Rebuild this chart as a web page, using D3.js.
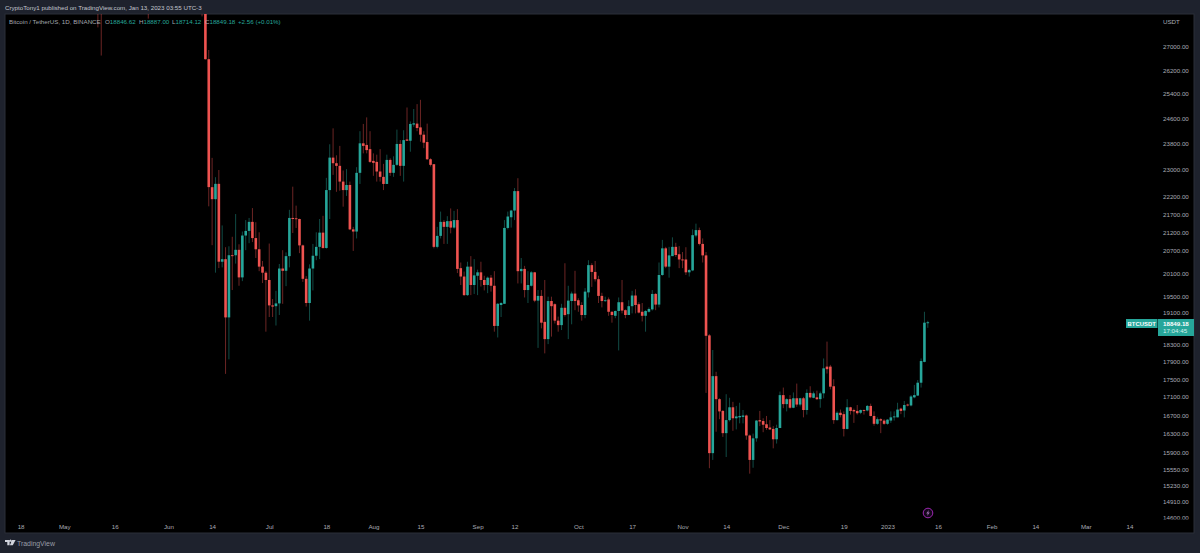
<!DOCTYPE html>
<html><head><meta charset="utf-8">
<script src="https://cdn.jsdelivr.net/npm/d3@7"></script>
<style>
html,body{margin:0;padding:0;background:#1e222d;overflow:hidden}
svg{display:block}
text{font-family:"Liberation Sans",Arial,sans-serif}
</style></head><body>
<svg id="c" width="1200" height="553"></svg>
<script>
// Candles visible only as a wick sticking into the pane from above
const earlyDates=["2022-05-11","2022-05-12","2022-05-26","2022-06-11"];
const earlyOpen=[31000,29000,29500,29080];
const earlyHigh=[32100,30100,30200,29450];
const earlyLow=[27700,26700,28019,28100];
const earlyClose=[29000,28900,29180,28420];

// Daily candles, consecutive from this date
const firstDate="2022-06-12";
const opens=[
28420,26574,22485,22136,22583,20400,20468,18970,20574,20573,20720,19987,21110,21237,21490,21040,20735,20270,20110,
19920,19270,19250,19320,20220,20160,20550,21600,21590,21570,20840,19950,19330,20220,20560,20800,21190,20770,22400,23370,23200,23120,22650,22400,22550,21280,21220,22910,23810,23760,23630,
23270,23240,22950,22790,22580,23300,22910,23150,23790,23120,23930,23890,24400,24430,24310,24080,23850,23320,23170,20800,21100,21490,21350,21510,21330,21540,20230,20010,19530,20270,19790,
20030,20120,19920,19790,19980,19770,18760,19280,19310,21320,21620,21810,22370,20150,20210,19660,19770,20120,19390,19510,18860,18440,19380,19300,18890,18780,19210,19050,19380,19570,
19400,19280,19030,19600,20310,20130,19940,19510,19380,19420,19110,19010,19130,19350,19150,19030,19250,19520,19300,19110,19010,19110,19170,19560,19290,20050,20760,20270,20550,20800,20600,
20460,20460,20120,20170,21110,21260,20880,20570,18530,15890,17570,17050,16790,16310,16590,16870,16630,16650,16660,16690,16260,15750,16200,16590,16570,16500,16430,16400,16180,16420,
17140,16940,17050,16860,17070,16930,17070,16810,17190,17080,17090,17050,17180,17790,17790,17340,16590,16750,16720,16400,16870,16810,16790,16750,16810,16800,16900,16680,16510,16610,16580,
16510,16580,16650,16650,16840,16800,16930,16910,17090,17130,17420,17900,18846.62
];
const highs=[
28550,26895,23362,22780,22995,21390,20790,20815,21075,21710,20870,21220,21540,21600,21880,21480,21200,20420,20150,
20890,19430,19640,20340,20710,20650,21830,22500,21950,21580,20860,20020,20330,20880,21200,21570,21660,22760,23780,24280,23440,23730,22980,23020,22650,21350,23080,24190,24420,24630,24190,
23500,23460,23630,23180,23460,23350,23410,24240,23910,24220,24950,24500,24900,25060,25200,24190,24430,23350,23170,21350,21780,21540,21650,21870,21800,21850,20380,20140,20400,20550,20470,
20190,20400,20030,20010,20050,20150,19330,19350,21540,21780,21830,22460,22750,20500,20290,20150,20150,20130,19660,19660,19920,19490,19490,19320,18990,19310,20360,19770,19620,20160,
19450,19350,19710,20440,20360,20420,20030,19590,19490,19470,19120,19140,19470,19920,19170,19400,19640,19680,19350,19330,19150,19220,19660,19580,20380,20990,20800,20800,21060,20910,20820,
20660,20790,20210,21280,21440,21330,21030,20660,18560,18180,17670,17070,16810,17160,17080,16990,16900,16970,16810,16710,16280,16300,16590,16790,16630,16680,16590,16460,16490,17220,
17310,17070,17140,17200,17400,17080,17100,17270,17340,17220,17240,17220,17980,18380,17830,17500,16780,16820,16780,17050,16880,16840,16920,16820,16820,16920,16950,16780,16650,16630,16610,
16610,16780,16780,16970,16860,17010,16950,17140,17370,17480,17980,19110,18887
];
const lows=[
26560,21930,20846,20111,20232,20250,17622,17960,19660,20350,19770,19890,20710,20900,20930,20500,20150,19840,18620,
18980,18980,18770,19030,19310,19760,20250,21180,21320,20630,19870,19240,18890,19650,20440,20470,20750,20750,21570,22850,22350,22380,21920,22230,21260,20690,21030,22580,23500,23500,23210,
22820,22650,22650,22400,22580,22820,22790,23120,22820,22650,23890,23550,24330,24190,23860,23660,23300,23100,20760,20760,21030,20880,20880,21170,21300,20100,19790,19510,19510,19530,19560,
19530,19750,19650,19580,19620,18620,18480,18980,19310,21280,21330,21540,19830,19830,19470,19330,19750,19350,18230,18700,18100,18320,18500,18820,18620,18660,18990,18440,18800,19150,
19110,18890,18950,19470,19740,19880,19330,19220,19360,19010,18840,18950,18170,19070,18950,19030,19070,19070,19070,18870,18620,19090,19140,19150,19220,20030,20230,19980,20550,20530,20230,
20230,20050,20010,20150,21060,20840,20380,17190,15580,15750,16340,16610,16230,15810,16560,16360,16390,16520,16520,16170,15470,15590,16130,16460,16330,16380,16380,15990,16090,16420,
16850,16780,16840,16850,16880,16890,16650,16710,17070,17070,17030,16860,17070,17630,17270,16510,16580,16650,16240,16390,16710,16530,16710,16720,16710,16780,16670,16470,16490,16310,16490,
16490,16530,16580,16650,16720,16650,16890,16890,17070,17120,17310,17890,18714.12
];
const closes=[
26574,22487,22136,22583,20401,20468,18970,20574,20573,20720,19987,21110,21237,21490,21040,20735,20270,20110,19920,
19270,19240,19320,20220,20160,20550,21600,21570,21570,20840,19950,19330,20220,20560,20800,21190,20770,22400,23370,23200,23120,22650,22400,22550,21280,21220,22910,23810,23730,23600,23240,
23210,22950,22790,22580,23300,22910,23150,23790,23120,23910,23890,24420,24440,24290,24080,23830,23320,23150,20800,21100,21490,21350,21510,21330,21540,20210,20010,19530,20270,19790,20040,
20120,19920,19790,19980,19770,18760,19310,19330,21320,21640,21810,22370,20150,20210,19660,19790,20120,19390,19510,18840,18440,19380,19250,18890,18780,19210,19030,19390,19570,19380,
19270,19030,19620,20310,20130,19940,19510,19380,19400,19110,19030,19130,19350,19140,19030,19250,19520,19280,19090,19010,19130,19180,19560,19290,20050,20760,20270,20570,20800,20580,20460,
20440,20120,20180,21120,21260,20880,20570,18520,15890,17570,17050,16780,16310,16590,16870,16630,16670,16680,16690,16260,15750,16200,16580,16560,16490,16420,16390,16180,16420,17140,
16940,17050,16860,17070,16930,17070,16810,17190,17090,17180,17050,17180,17750,17730,17330,16590,16750,16700,16400,16870,16790,16780,16740,16810,16790,16900,16680,16510,16610,16580,16510,
16600,16650,16670,16820,16790,16920,16910,17110,17140,17420,17920,18840,18849.18
];

const priceTicks=[27000,26200,25400,24600,23800,23000,22200,21700,21200,20700,20100,19500,19100,18300,17900,17500,17100,16700,16300,15900,15550,15230,14910,14600];
const timeTickDates=["2022-04-18","2022-05-01","2022-05-16","2022-06-01","2022-06-14","2022-07-01","2022-07-18","2022-08-01","2022-08-15","2022-09-01","2022-09-12","2022-10-01","2022-10-17","2022-11-01","2022-11-14","2022-12-01","2022-12-19","2023-01-01","2023-01-16","2023-02-01","2023-02-14","2023-03-01","2023-03-14"];
const timeTickLabels=["18","May","16","Jun","14","Jul","18","Aug","15","Sep","12","Oct","17","Nov","14","Dec","19","2023","16","Feb","14","Mar","14"];

const UP="#26a69a",DOWN="#ef5350",TXT="#a8abb4",FRAME="#1e222d",FS=6.2;
const parse=d3.utcParse("%Y-%m-%d");
const svg=d3.select("#c");
const pane={l:5,t:14,r:1194,b:533};

svg.append("rect").attr("width",1200).attr("height",553).attr("fill",FRAME);
svg.append("rect").attr("x",pane.l).attr("y",pane.t).attr("width",pane.r-pane.l).attr("height",pane.b-pane.t).attr("fill","#000").attr("stroke","#2a2e39").attr("stroke-width",1);

const defs=svg.append("defs");
defs.append("clipPath").attr("id","plot").append("rect").attr("x",pane.l).attr("y",pane.t).attr("width",1115).attr("height",pane.b-pane.t);
defs.append("clipPath").attr("id","paxis").append("rect").attr("x",1120).attr("y",pane.t).attr("width",74).attr("height",505.5);

const x=d3.scaleUtc().domain([parse("2022-04-18"),parse("2023-03-14")]).range([20.6,1129.4]);
const y=d3.scaleLog().domain([27000,14600]).range([47,518]);

const start=parse(firstDate);
const candles=opens.map((o,i)=>({d:d3.utcDay.offset(start,i),o,h:highs[i],l:lows[i],c:closes[i]}));
const early=earlyDates.map((s,i)=>({d:parse(s),o:earlyOpen[i],h:earlyHigh[i],l:earlyLow[i],c:earlyClose[i]}));
const all=early.concat(candles);

const g=svg.append("g").attr("clip-path","url(#plot)");
const col=d=>d.c>=d.o?UP:DOWN;
g.selectAll("line.w").data(all).join("line").attr("class","w")
 .attr("x1",d=>x(d.d)).attr("x2",d=>x(d.d))
 .attr("y1",d=>y(d.h)).attr("y2",d=>y(d.l))
 .attr("stroke",col).attr("stroke-width",1).attr("stroke-opacity",0.45);
g.selectAll("rect.b").data(all).join("rect").attr("class","b")
 .attr("x",d=>x(d.d)-1.3).attr("width",2.6)
 .attr("y",d=>Math.min(y(d.o),y(d.c)))
 .attr("height",d=>Math.max(0.9,Math.abs(y(d.o)-y(d.c))))
 .attr("fill",col);

// price axis
const pa=svg.append("g").attr("clip-path","url(#paxis)").append("g").attr("transform","translate(1163,0)")
 .call(d3.axisRight(y).tickValues(priceTicks).tickSize(0).tickPadding(0).tickFormat(d3.format(".2f")));
pa.select(".domain").remove();
pa.selectAll("text").attr("fill",TXT).style("font-size",FS+"px").style("font-family","'Liberation Sans',Arial,sans-serif");
svg.append("text").attr("x",1163).attr("y",23.5).attr("fill",TXT).attr("font-size",FS).text("USDT");

// time axis
const tickMap=new Map(timeTickDates.map((s,i)=>[+parse(s),timeTickLabels[i]]));
const ta=svg.append("g").attr("transform","translate(0,524.5)")
 .call(d3.axisBottom(x).tickValues(timeTickDates.map(parse)).tickSize(0).tickPadding(0).tickFormat(d=>tickMap.get(+d)));
ta.select(".domain").remove();
ta.selectAll("text").attr("fill",TXT).style("font-size",FS+"px").style("font-family","'Liberation Sans',Arial,sans-serif");

// header
svg.append("text").attr("x",5).attr("y",9.8).attr("fill","#c3c6ce").attr("font-size",FS).text("CryptoTony1 published on TradingView.com, Jan 13, 2023 03:55 UTC-3");

// legend
const legendY=23.5;
svg.append("text").attr("x",9).attr("y",legendY).attr("fill","#a3a6af").attr("font-size",FS).text("Bitcoin / TetherUS, 1D, BINANCE");
[[105,"O","18846.62"],[139,"H","18887.00"],[172,"L","18714.12"],[205,"C","18849.18"]].forEach(([px,k,v])=>{
  const t=svg.append("text").attr("x",px).attr("y",legendY).attr("font-size",FS);
  t.append("tspan").attr("fill","#a3a6af").text(k);
  t.append("tspan").attr("fill",UP).text(v);
});
svg.append("text").attr("x",238).attr("y",legendY).attr("fill",UP).attr("font-size",FS).text("+2.56 (+0.01%)");

// last price labels
svg.append("rect").attr("x",1126).attr("y",319).attr("width",31.5).attr("height",9).attr("fill",UP);
svg.append("text").attr("x",1141.7).attr("y",325.8).attr("text-anchor","middle").attr("fill","#fff").attr("font-size",5.9).attr("font-weight","bold").text("BTCUSDT");
svg.append("rect").attr("x",1158).attr("y",319).attr("width",36).attr("height",17).attr("fill",UP);
svg.append("text").attr("x",1163).attr("y",325.8).attr("fill","#fff").attr("font-size",FS).attr("font-weight","bold").text("18849.18");
svg.append("text").attr("x",1163).attr("y",333.3).attr("fill","#d6f0ec").attr("font-size",FS).text("17:04:45");

// purple event marker
const m=svg.append("g").attr("transform","translate(928,513)");
m.append("circle").attr("r",4.8).attr("fill","#14061a").attr("stroke","#9c27b0").attr("stroke-width",1);
m.append("path").attr("d","M0.9,-3 L-1.8,0.5 L-0.2,0.5 L-0.9,3 L1.8,-0.6 L0.2,-0.6 Z").attr("fill","#9c6fb0");

// footer logo
const f=svg.append("g").attr("transform","translate(5,540)").attr("fill","#d1d4dc");
f.append("path").attr("d","M0,0 H4.6 V5.2 H2.3 V2 H0 Z M5.6,1.8 A1,1 0 1 1 5.61,1.8 Z M7,0 H10.6 L7.8,5.2 H4.9 Z");
svg.append("text").attr("x",17).attr("y",546).attr("fill","#9a9da6").attr("font-size",6.9).text("TradingView");
</script>
</body></html>
